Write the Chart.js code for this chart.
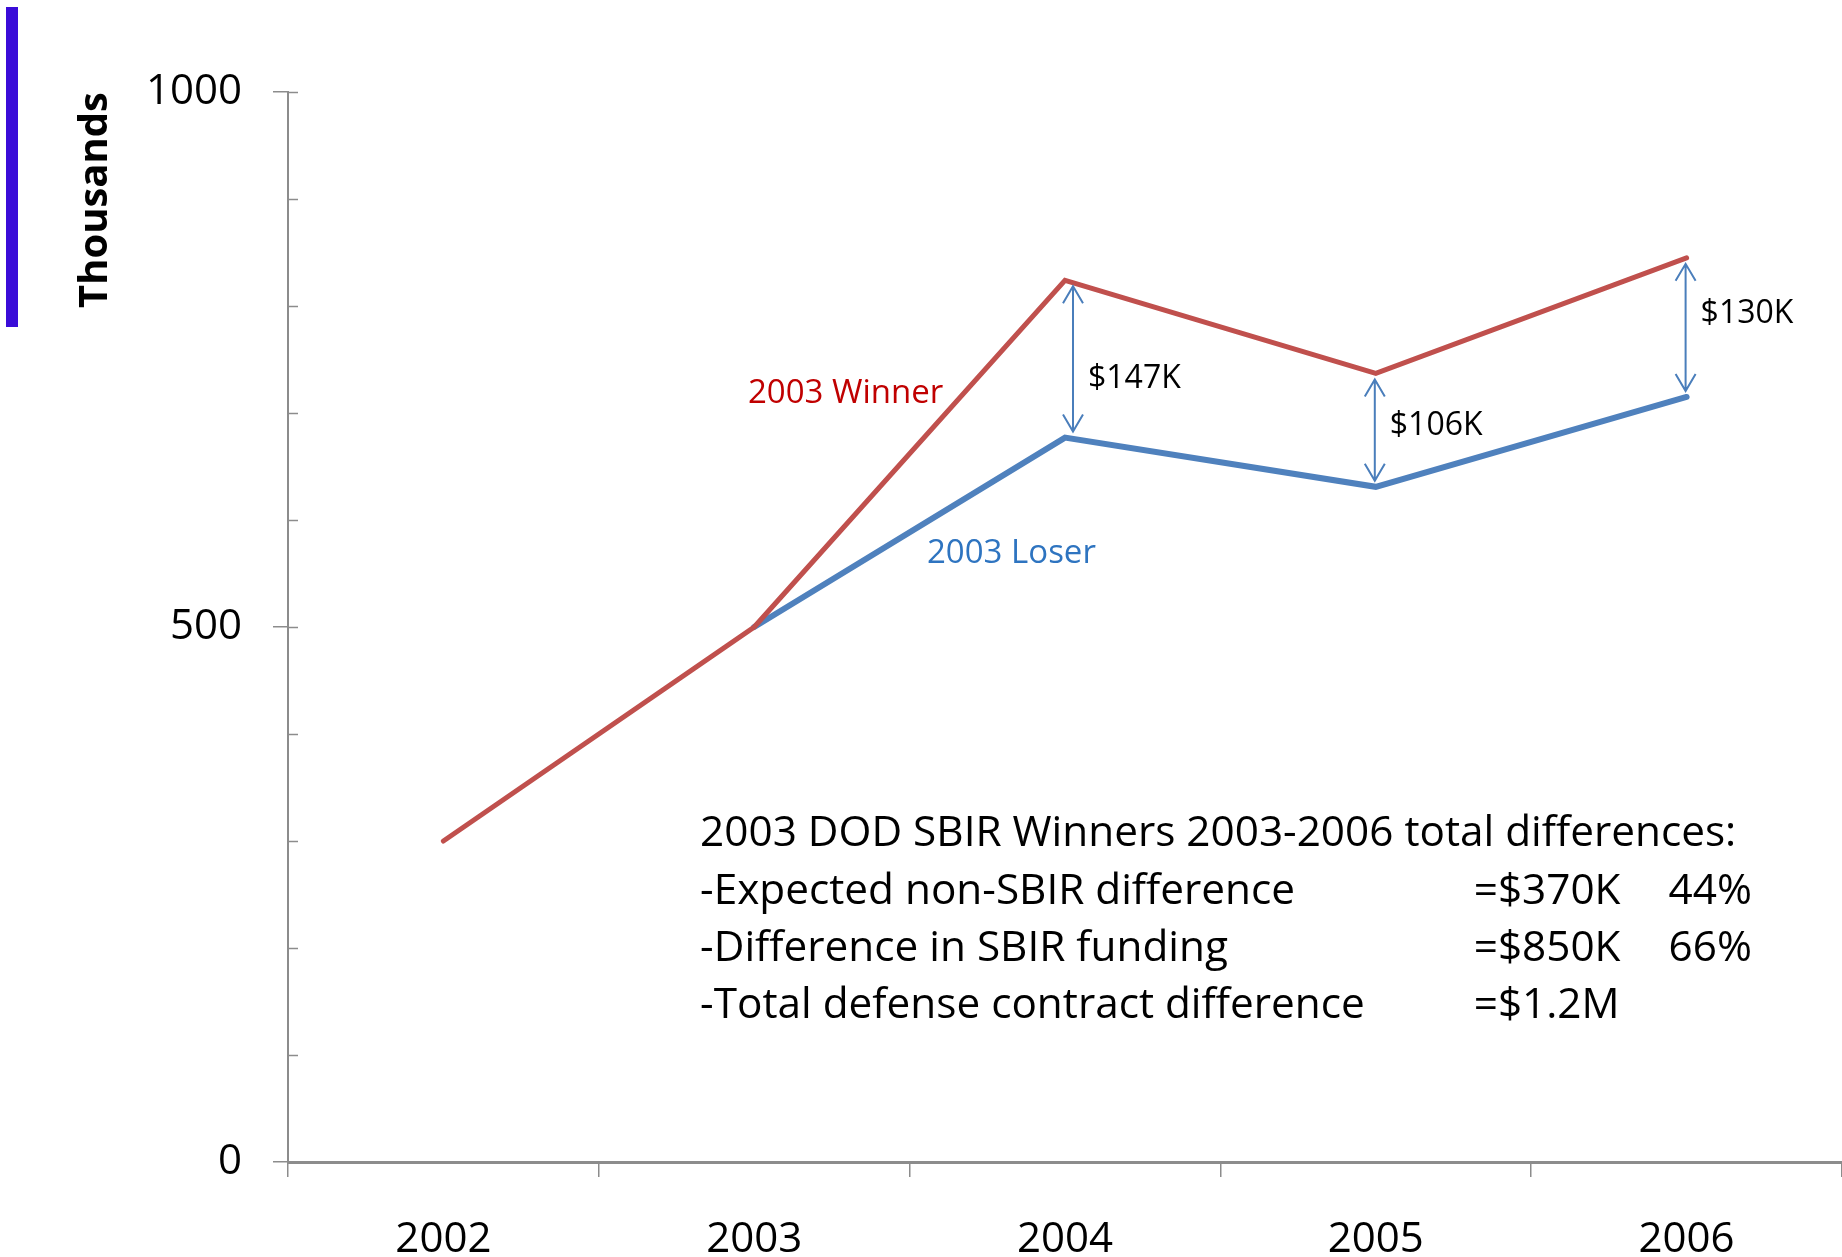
<!DOCTYPE html>
<html>
<head>
<meta charset="utf-8">
<title>2003 DOD SBIR winners vs losers</title>
<script src="https://cdn.jsdelivr.net/npm/chart.js@4.4.1/dist/chart.umd.min.js"></script>
<style>
  html, body { margin: 0; padding: 0; background: #fff; }
</style>
</head>
<body>
<canvas id="sbirChart" width="1842" height="1257"></canvas>
<script>
// values in thousands of dollars
const years = ["2002", "2003", "2004", "2005", "2006"];
const winner = [300, 500, 824, 737, 845];
const loser = [null, 500, 677, 631, 715];
const yTickLabels = [0, 500, 1000];
const gapYears = [2, 3, 4];
const gapLabels = ["$147K", "$106K", "$130K"];
const summaryLines = [
  ["2003 DOD SBIR Winners 2003-2006 total differences:", "", ""],
  ["-Expected non-SBIR difference", "=$370K", "44%"],
  ["-Difference in SBIR funding", "=$850K", "66%"],
  ["-Total defense contract difference", "=$1.2M", ""]
];

const FONT = "'Open Sans', 'Noto Sans', sans-serif";
const AXIS_GRAY = "#8c8c8c";
const RED = "#c0504d";
const BLUE = "#4f81bd";

const extras = {
  id: "extras",
  beforeDraw(chart) {
    const ctx = chart.ctx;
    ctx.save();
    ctx.fillStyle = "#3a0cd8";
    ctx.fillRect(6, 7, 12, 320);
    ctx.restore();
  },
  afterDraw(chart) {
    const ctx = chart.ctx;
    const xs = chart.scales.x;
    const ys = chart.scales.y;
    const left = chart.chartArea.left;
    ctx.save();

    // small inner tick marks on the value axis
    ctx.strokeStyle = AXIS_GRAY;
    ctx.lineWidth = 1.5;
    for (let v = 100; v <= 1000; v += 100) {
      const y = Math.round(ys.getPixelForValue(v)) + 0.5;
      ctx.beginPath();
      ctx.moveTo(left, y);
      ctx.lineTo(left + 10, y);
      ctx.stroke();
    }

    // double arrows between the two lines
    const shift = [8, -1, -1];
    const dy = [20, -4, -14];
    ctx.strokeStyle = "#4a7ebb";
    ctx.lineWidth = 2;
    ctx.font = "32px " + FONT;
    ctx.textBaseline = "middle";
    ctx.textAlign = "left";
    gapYears.forEach((idx, i) => {
      const x = xs.getPixelForValue(idx) + shift[i];
      const yTop = ys.getPixelForValue(winner[idx]) + 6;
      const yBot = ys.getPixelForValue(loser[idx]) - 6;
      ctx.beginPath();
      ctx.moveTo(x, yTop);
      ctx.lineTo(x, yBot);
      ctx.moveTo(x - 10, yTop + 17);
      ctx.lineTo(x, yTop);
      ctx.lineTo(x + 10, yTop + 17);
      ctx.moveTo(x - 10, yBot - 17);
      ctx.lineTo(x, yBot);
      ctx.lineTo(x + 10, yBot - 17);
      ctx.stroke();
      ctx.fillStyle = "#000";
      ctx.fillText(gapLabels[i], x + 15, (yTop + yBot) / 2 + dy[i]);
    });

    // series names
    ctx.font = "33px " + FONT;
    ctx.fillStyle = "#c00000";
    ctx.fillText("2003 Winner", xs.getPixelForValue(0.98), ys.getPixelForValue(721) + 3);
    ctx.fillStyle = "#2e74c0";
    ctx.fillText("2003 Loser", xs.getPixelForValue(1.556), ys.getPixelForValue(571) + 3);

    // summary block
    ctx.font = "42.3px " + FONT;
    ctx.fillStyle = "#000";
    const col = [xs.getPixelForValue(0.826), xs.getPixelForValue(3.315), xs.getPixelForValue(3.942)];
    summaryLines.forEach((line, i) => {
      const y = ys.getPixelForValue(309) + 3 + i * 57.3;
      line.forEach((txt, c) => { if (txt) ctx.fillText(txt, col[c], y); });
    });
    ctx.restore();
  }
};

new Chart(document.getElementById("sbirChart"), {
  type: "line",
  data: {
    labels: years,
    datasets: [
      {
        label: "2003 Winner",
        data: winner,
        borderColor: RED,
        borderWidth: 5,
        borderCapStyle: "round",
        pointRadius: 0,
        tension: 0
      },
      {
        label: "2003 Loser",
        data: loser,
        borderColor: BLUE,
        borderWidth: 6,
        borderCapStyle: "round",
        pointRadius: 0,
        tension: 0
      }
    ]
  },
  options: {
    responsive: false,
    animation: false,
    devicePixelRatio: 1,
    layout: { padding: { top: 92, right: 0, bottom: 0, left: 0 } },
    plugins: {
      legend: { display: false },
      tooltip: { enabled: false }
    },
    scales: {
      x: {
        offset: true,
        afterFit(scale) { scale.height = 95; },
        border: { color: AXIS_GRAY, width: 3 },
        grid: { offset: true, drawOnChartArea: false, tickLength: 15, tickColor: AXIS_GRAY, lineWidth: 1.5 },
        ticks: { padding: 38, color: "#000", maxRotation: 0, font: { family: FONT, size: 42 } }
      },
      y: {
        min: 0,
        max: 1000,
        afterFit(scale) { scale.width = 288; },
        border: { color: AXIS_GRAY, width: 2 },
        grid: {
          drawOnChartArea: false,
          tickLength: 15,
          lineWidth: 1.5,
          tickColor: c => (c.tick && yTickLabels.includes(c.tick.value)) ? AXIS_GRAY : "rgba(0,0,0,0)"
        },
        ticks: {
          stepSize: 100,
          autoSkip: false,
          padding: 31,
          color: "#000",
          font: { family: FONT, size: 42 },
          callback: v => yTickLabels.includes(v) ? String(v) : ""
        },
        title: {
          display: true,
          text: "Thousands",
          align: "end",
          color: "#000",
          font: { family: FONT, size: 40, weight: "bold" },
          padding: { top: 72, bottom: 0 }
        }
      }
    }
  },
  plugins: [extras]
});
</script>
</body>
</html>
